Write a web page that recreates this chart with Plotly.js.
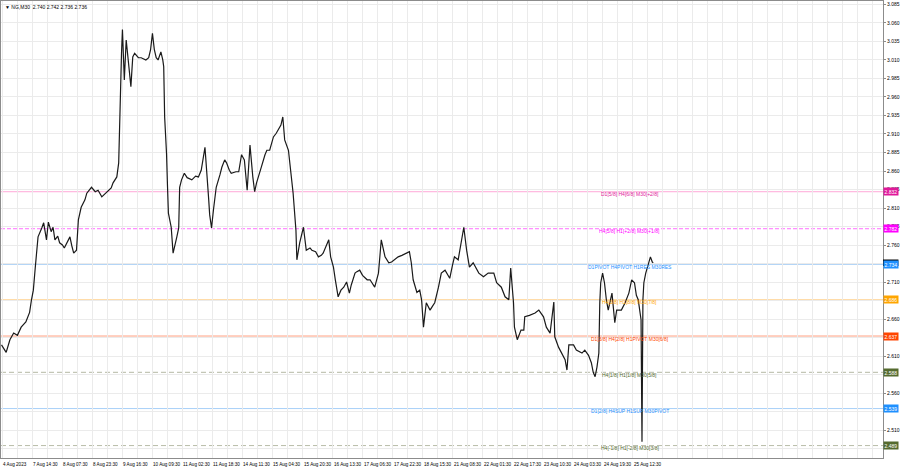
<!DOCTYPE html>
<html>
<head>
<meta charset="utf-8">
<script src="https://cdn.plot.ly/plotly-3.0.1.min.js"></script>
<style>html,body{margin:0;padding:0;background:#fff;}#chart{width:900px;height:468px;}</style>
</head>
<body>
<div id="chart"></div>
<script>
// ---- data (bar index on the M30 chart, price) ----
const barIndex = [
  0,3,5,9,13,17,21,26,30,32,34,36,39,43,45,48,50,53,55,57,
  60,62,65,67,70,73,75,77,80,82,85,89,91,94,96,100,103,107,111,114,
  117,119,123,125,126,127,128,129,131,133,135,138,140,142,146,149,154,157,159,161,
  163,165,167,170,172,173,174,175,176,177,178,181,183,187,189,190,192,195,198,203,
  207,210,213,217,219,221,222,224,226,229,233,235,238,240,243,245,250,253,256,259,
  262,265,268,270,272,275,277,281,283,286,288,290,293,295,298,300,302,306,308,311,
  314,315,318,320,322,325,329,331,335,338,341,343,347,349,351,354,356,359,362,365,
  368,371,373,377,379,382,385,387,390,393,396,398,402,405,409,413,416,419,423,427,
  431,435,437,439,443,446,448,450,453,457,460,462,466,469,473,476,478,481,483,487,
  491,493,496,499,503,507,509,514,516,519,525,528,533,537,541,543,546,547,550,554,
  557,558,563,569,573,578,581,585,589,590,594,597,601,603,605,610,613,619,622,626,
  629,631,633,635,637,638,639,641,643,645,647,651,654,656,658,661,665,669,672,675,
  677,679,682,683,684,685,687,690,692,694,695
];
const price = [
  2.625,2.618,2.615,2.632,2.641,2.638,2.649,2.656,2.669,2.686,2.699,2.729,2.771,2.783,2.790,2.767,2.791,2.778,2.784,2.767,
  2.772,2.763,2.760,2.756,2.764,2.771,2.759,2.749,2.753,2.794,2.811,2.821,2.830,2.834,2.838,2.832,2.834,2.825,2.830,2.834,
  2.837,2.844,2.852,2.871,2.929,2.983,3.019,3.051,2.983,3.037,3.010,2.974,3.014,3.019,3.013,3.013,3.010,3.013,3.024,3.046,
  3.024,3.013,3.010,3.021,3.010,3.001,2.933,2.915,2.884,2.841,2.803,2.784,2.749,2.771,2.783,2.838,2.848,2.857,2.851,2.848,
  2.853,2.852,2.861,2.892,2.861,2.821,2.801,2.783,2.807,2.838,2.855,2.865,2.875,2.871,2.861,2.857,2.859,2.859,2.882,2.875,
  2.834,2.895,2.852,2.832,2.844,2.859,2.865,2.882,2.888,2.888,2.899,2.906,2.911,2.915,2.922,2.933,2.902,2.888,2.865,2.830,
  2.780,2.740,2.763,2.776,2.784,2.753,2.756,2.753,2.751,2.744,2.746,2.749,2.760,2.767,2.744,2.730,2.713,2.690,2.699,2.703,
  2.710,2.695,2.706,2.722,2.724,2.726,2.719,2.717,2.713,2.713,2.706,2.703,2.722,2.767,2.744,2.736,2.737,2.740,2.744,2.746,
  2.749,2.751,2.736,2.713,2.696,2.699,2.686,2.649,2.682,2.672,2.678,2.682,2.703,2.722,2.726,2.719,2.715,2.733,2.744,2.740,
  2.767,2.784,2.753,2.730,2.736,2.726,2.722,2.717,2.719,2.722,2.722,2.709,2.703,2.690,2.686,2.729,2.682,2.649,2.632,2.645,
  2.645,2.663,2.665,2.668,2.672,2.663,2.649,2.641,2.683,2.636,2.622,2.614,2.605,2.591,2.625,2.625,2.618,2.614,2.618,2.611,
  2.601,2.588,2.582,2.595,2.614,2.682,2.709,2.722,2.709,2.686,2.672,2.695,2.655,2.672,2.672,2.672,2.682,2.695,2.713,2.709,
  2.692,2.686,2.659,2.494,2.686,2.709,2.722,2.736,2.744,2.737,2.736
];
const tickLabels = ["4 Aug 2023","7 Aug 14:30","8 Aug 07:30","8 Aug 23:30","9 Aug 16:30","10 Aug 09:30",
  "11 Aug 02:30","11 Aug 18:30","14 Aug 11:30","15 Aug 04:30","15 Aug 20:30","16 Aug 13:30","17 Aug 06:30",
  "17 Aug 22:30","18 Aug 15:30","21 Aug 08:30","22 Aug 01:30","22 Aug 17:30","23 Aug 10:30","24 Aug 03:30",
  "24 Aug 19:30","25 Aug 12:30"];
const priceTicks = [2.485,2.510,2.535,2.560,2.585,2.610,2.635,2.660,2.685,2.710,2.735,2.760,2.785,2.810,2.835,
  2.860,2.885,2.910,2.935,2.960,2.985,3.010,3.035,3.060,3.085];
const levelValues = [2.832, 2.782, 2.734, 2.686, 2.637, 2.588, 2.539, 2.489];
const levelLabels = ["D1[5/8] H4[6/8] M30[+2/8]","H4[5/8] H1[+2/8] M30[+1/8]","D1PIVOT H4PIVOT H1RES M30RES",
  "H4[3/8] H1[8/8] M30[7/8]","D1[3/8] H4[2/8] H1PIVOT M30[6/8]","H4[1/8] H1[1/8] M30[5/8]",
  "D1[2/8] H4SUP H1SUP M30PIVOT","H4[-1/8] H1[-2/8] M30[3/8]"];
const headerText = "NG,M30  2.740 2.742 2.736 2.736";
const lastPrice = 2.736;

// ---- styles ----
const FONT = "Liberation Sans, Arial, sans-serif";
const lineColors = ["#ffa8d8","#ff70ff","#9cc8f4","#ffcf8a","#ff9f80","#b4b8a4","#a8d0f8","#b8bca8"];
const lineDash   = ["solid","4px,2px","solid","solid","solid","5px,3px","solid","5px,3px"];
const textColors = ["#e0189a","#ff00ff","#1e90ff","#ffa500","#ff4500","#556b2f","#1e90ff","#556b2f"];
const boxColors  = ["#e0189a","#ff00ff","#1e90ff","#ffa500","#ff4500","#556b2f","#1e90ff","#556b2f"];
const labelBar = 670;

// x grid every 16 bars, a label every 32 bars
const tickvals = [];
for (let k = 0; k <= 58; k++) tickvals.push(1 + 16 * k);

// y tick labels hidden where a level box covers them
const yTickText = priceTicks.map(t =>
  levelValues.some(v => t - v <= 0.002 && v - t <= 0.0045) ? "" : t.toFixed(3));

const shapes = levelValues.map((v, i) => ({
  type: "line", xref: "paper", x0: 0, x1: 1, yref: "y", y0: v, y1: v,
  line: {color: lineColors[i], width: 1, dash: lineDash[i]}, layer: "below"
}));
// current-price marker on the price scale (mostly hidden behind the pivot box)
shapes.push({
  type: "rect", xref: "paper", x0: 1, x1: 1.0175, yref: "y", y0: lastPrice - 0.0044, y1: lastPrice + 0.0044,
  fillcolor: "#000000", line: {width: 0}, layer: "above"
});

const annotations = [];
tickLabels.forEach((t, i) => {
  annotations.push({
    x: tickvals[2 * i], xref: "x", y: 0, yref: "paper", text: t, showarrow: false,
    xanchor: "left", yanchor: "top", yshift: -1.5, xshift: -1,
    font: {family: FONT, size: 4.6, color: "#000"}
  });
});
levelValues.forEach((v, i) => {
  annotations.push({
    x: labelBar, y: v, xref: "x", yref: "y", text: levelLabels[i], showarrow: false,
    xanchor: "center", yanchor: "middle", yshift: -2.5,
    font: {family: FONT, size: 5, color: textColors[i]}
  });
});
levelValues.forEach((v, i) => {
  annotations.push({
    x: 1, xref: "paper", y: v, yref: "y", text: v.toFixed(3), showarrow: false,
    xanchor: "left", yanchor: "middle", bgcolor: boxColors[i], borderpad: 0.5,
    font: {family: FONT, size: 5, color: "#ffffff"}
  });
});
annotations.push({
  x: 0, xref: "paper", y: 1, yref: "paper", text: "\u25BC " + headerText, showarrow: false,
  xanchor: "left", yanchor: "top", xshift: 2, yshift: -1,
  font: {family: FONT, size: 5, color: "#000000"}
});

const trace = {
  x: barIndex, y: price, type: "scatter", mode: "lines",
  line: {color: "#1a1a1a", width: 1.2}, hoverinfo: "skip"
};

const layout = {
  width: 900, height: 468,
  margin: {l: 1, r: 17, t: 1, b: 10, pad: 0},
  paper_bgcolor: "#ffffff", plot_bgcolor: "#ffffff",
  showlegend: false,
  xaxis: {
    range: [-0.5, 940], tickvals: tickvals, showticklabels: false, ticks: "",
    showgrid: true, gridcolor: "#ebebeb", gridwidth: 1, zeroline: false,
    showline: true, linecolor: "#8c8c8c", linewidth: 1, mirror: true,
    automargin: false, fixedrange: true
  },
  yaxis: {
    side: "right", range: [2.4722, 3.0897], tickvals: priceTicks, ticktext: yTickText,
    ticks: "outside", ticklen: 2, tickcolor: "#8c8c8c",
    showgrid: true, gridcolor: "#ebebeb", gridwidth: 1, zeroline: false,
    showline: true, linecolor: "#8c8c8c", linewidth: 1, mirror: true,
    tickfont: {family: FONT, size: 5, color: "#000"},
    automargin: false, fixedrange: true
  },
  shapes: shapes,
  annotations: annotations
};

Plotly.newPlot("chart", [trace], layout, {staticPlot: true, displayModeBar: false});
</script>
</body>
</html>
